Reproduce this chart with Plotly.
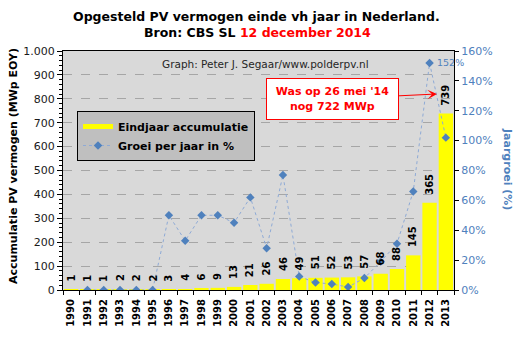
import plotly.graph_objects as go

years = [str(y) for y in range(1990, 2014)]
capacity = [1, 1, 1, 2, 2, 2, 3, 4, 6, 9, 13, 21, 26, 46, 49, 51, 52, 53, 57, 68, 88, 145, 365, 739]
growth = [None, 0, 0, 0, 0, 0, 50, 33, 50, 50, 45, 62, 28, 77, 9, 5, 4, 2, 8, 19, 31, 66, 152, 102]
left_ticks = [0, 100, 200, 300, 400, 500, 600, 700, 800, 900, 1000]
left_tick_text = ["0", "100", "200", "300", "400", "500", "600", "700", "800", "900", "1.000"]
right_ticks = [0, 20, 40, 60, 80, 100, 120, 140, 160]

FONT = "DejaVu Sans"
BLUE = "#4f81bd"

fig = go.Figure()

fig.add_trace(go.Bar(x=years, y=capacity, marker=dict(color="#ffff00", line=dict(width=0)),
                     showlegend=False, name="Eindjaar accumulatie"))

# legend-only entry for bars (drawn as thick line as in original)
fig.add_trace(go.Scatter(x=[years[0]], y=[None], mode="lines", name="Eindjaar accumulatie",
                         line=dict(color="#ffff00", width=5), showlegend=True, legendrank=1))

fig.add_trace(go.Scatter(x=years, y=growth, yaxis="y2", mode="lines+markers",
                         name="Groei per jaar in %", legendrank=2,
                         line=dict(color="#8eaad6", width=1, dash="dot"),
                         marker=dict(symbol="diamond", size=6.5, color=BLUE),
                         connectgaps=False))

annotations = []
for i, v in enumerate(capacity):
    annotations.append(dict(x=i, y=v, xref="x", yref="y", text=str(v), showarrow=False,
                            textangle=-90, yanchor="bottom", xanchor="center", yshift=6,
                            font=dict(family=FONT, size=10, color="black", weight="bold")))

# 152% label
i_max = growth.index(max(g for g in growth if g is not None))
annotations.append(dict(x=i_max, y=growth[i_max], xref="x", yref="y2", text=f"{growth[i_max]}%",
                        showarrow=False, xanchor="left", yanchor="middle", xshift=5,
                        font=dict(family=FONT, size=9.5, color=BLUE)))

# titles
annotations.append(dict(x=(256 - 63) / 391, y=(290 - 16) / 239, xref="paper", yref="paper",
                        text="<b>Opgesteld PV vermogen einde vh jaar in Nederland.</b>", showarrow=False,
                        xanchor="center", yanchor="middle",
                        font=dict(family=FONT, size=12.5, color="black")))
annotations.append(dict(x=(257 - 63) / 391, y=(290 - 33) / 239, xref="paper", yref="paper",
                        text="<b>Bron: CBS SL <span style='color:#ff0000'>12 december 2014</span></b>",
                        showarrow=False, xanchor="center", yanchor="middle",
                        font=dict(family=FONT, size=12.5, color="black")))
annotations.append(dict(x=(265 - 63) / 391, y=(290 - 64) / 239, xref="paper", yref="paper",
                        text="Graph: Peter J. Segaar/www.polderpv.nl", showarrow=False,
                        xanchor="center", yanchor="middle",
                        font=dict(family=FONT, size=10.5, color="#262626")))
annotations.append(dict(x=(13 - 63) / 391, y=(290 - 166) / 239, xref="paper", yref="paper",
                        text="<b>Accumulatie PV vermogen (MWp EOY)</b>", showarrow=False,
                        textangle=-90, xanchor="center", yanchor="middle",
                        font=dict(family=FONT, size=11, color="black")))
annotations.append(dict(x=(508 - 63) / 391, y=(290 - 169) / 239, xref="paper", yref="paper",
                        text="<b>Jaargroei (%)</b>", showarrow=False,
                        textangle=90, xanchor="center", yanchor="middle",
                        font=dict(family=FONT, size=11, color=BLUE)))
# red note box with arrow
annotations.append(dict(x=(437 - 63) / 391, y=(290 - 94) / 239, xref="paper", yref="paper",
                        text="<b>Was op 26 mei '14<br>nog 722 MWp</b>", showarrow=True,
                        ax=-105, ay=5, arrowcolor="#ff0000", arrowwidth=1, arrowhead=3, arrowsize=1.6,
                        bgcolor="white", bordercolor="#ff0000", borderwidth=1, borderpad=6,
                        width=119, height=28,
                        font=dict(family=FONT, size=11, color="#ff0000")))

fig.update_layout(
    width=521, height=341,
    margin=dict(l=63, r=67, t=51, b=51),
    paper_bgcolor="white", plot_bgcolor="#d9d9d9",
    bargap=0.12,
    showlegend=True,
    legend=dict(x=(77 - 63) / 391, y=(290 - 111) / 239, xanchor="left", yanchor="top",
                bgcolor="#bfbfbf", bordercolor="black", borderwidth=1,
                font=dict(family=FONT, size=11, color="black", weight="bold"),
                tracegroupgap=4),
    xaxis=dict(type="category", categoryorder="array", categoryarray=years,
               range=[-0.5, len(years) - 0.5],
               tickangle=-90, tickson="boundaries", ticks="outside", ticklen=4,
               ticklabelstandoff=4,
               tickcolor="black", showline=True, linecolor="black", linewidth=1, mirror=True,
               showgrid=False,
               tickfont=dict(family=FONT, size=10, color="black", weight="bold")),
    yaxis=dict(range=[0, 1000], tickvals=left_ticks, ticktext=left_tick_text, ticks="outside",
               ticklen=5, tickcolor="black", showline=True, linecolor="black", linewidth=1,
               showgrid=True, gridcolor="#a6a6a6", griddash="dash", gridwidth=1, zeroline=False,
               minor=dict(dtick=20, ticks="outside", ticklen=3, tickcolor="black", showgrid=False),
               tickfont=dict(family=FONT, size=11, color="#1a1a1a")),
    yaxis2=dict(range=[0, 160], overlaying="y", side="right", tickvals=right_ticks,
                ticktext=[f"{v}%" for v in right_ticks], ticks="outside", ticklen=4,
                tickcolor="black", showline=True, linecolor="black", linewidth=1,
                showgrid=False, zeroline=False,
                tickfont=dict(family=FONT, size=11, color=BLUE)),
    annotations=annotations,
)

fig.write_html("out.html")
